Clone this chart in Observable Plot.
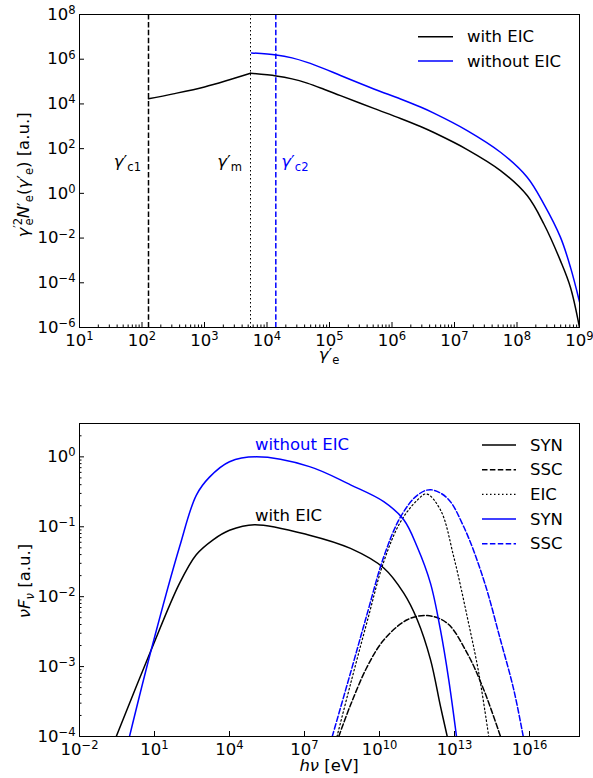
<!DOCTYPE html>
<html><head><meta charset="utf-8">
<script src="https://cdn.jsdelivr.net/npm/d3@7"></script>
<script src="https://cdn.jsdelivr.net/npm/@observablehq/plot@0.6"></script>
<style>
body{margin:0;background:#fff;}
#chart{width:593px;height:778px;font-family:"DejaVu Sans",sans-serif;}
svg{display:block}
</style></head><body><div id="chart"></div>
<script>
// ---------- Top panel data: [log10 γ'e, log10 γ'^2 N'e] ----------
const withEIC_rise = [[2.104,4.23],[2.5,4.45],[3.0,4.76],[3.4,5.08],[3.736,5.37]];
const withEIC_decay = [[3.736,5.37],[4.147,5.25],[4.4,5.12],[4.643,4.93],[4.91,4.66],[5.176,4.37],[5.709,3.80],[6.136,3.35],[6.456,2.99],[6.669,2.72],[7.203,1.96],[7.736,1.02],[8.163,-0.10],[8.43,-1.37],[8.696,-3.02],[8.856,-4.21],[9.0,-6.0]];
const withoutEIC = [[3.752,6.28],[4.147,6.19],[4.4,6.06],[4.643,5.86],[4.91,5.58],[5.176,5.27],[5.709,4.67],[6.136,4.22],[6.456,3.86],[6.669,3.59],[7.203,2.81],[7.736,1.84],[8.163,0.72],[8.43,-0.48],[8.696,-1.97],[8.856,-3.31],[9.0,-4.85]];
const gammaC1 = 10 ** 2.104;
const gammaM = 10 ** 3.736;
const gammaC2 = 10 ** 4.141;
const topXExp = [1,2,3,4,5,6,7,8,9];
const topYExp = [-6,-4,-2,0,2,4,6,8];

// ---------- Bottom panel data: [log10 hν (eV), log10 νFν] ----------
const synWith = [[-0.53,-4],[0.87,-2.76],[2.0,-1.81],[2.67,-1.40],[3.33,-1.19],[4.0,-1.05],[5.0,-0.97],[7.2,-1.12],[8.84,-1.31],[10.17,-1.59],[10.97,-1.95],[11.51,-2.33],[12.04,-2.90],[12.44,-3.57],[12.71,-4]];
const sscWith = [[8.37,-4],[8.84,-3.55],[9.51,-3.0],[10.17,-2.62],[11.11,-2.33],[11.91,-2.27],[12.71,-2.38],[13.51,-2.81],[14.17,-3.33],[14.84,-4]];
const eicWith = [[8.3,-4],[8.84,-3.25],[9.51,-2.35],[10.17,-1.50],[10.84,-0.93],[11.51,-0.62],[11.88,-0.53],[12.44,-0.76],[12.97,-1.43],[13.51,-2.29],[13.97,-3.09],[14.37,-4]];
const synWithout = [[0.0,-4],[0.87,-2.76],[2.0,-1.29],[2.67,-0.55],[3.2,-0.29],[4.0,-0.07],[5.07,0.0],[7.2,-0.14],[8.84,-0.40],[10.17,-0.64],[10.97,-0.90],[11.51,-1.29],[12.04,-1.81],[12.44,-2.48],[12.77,-3.19],[13.08,-4]];
const sscWithout = [[8.11,-4],[8.84,-3.09],[9.51,-2.24],[10.17,-1.43],[10.84,-0.86],[11.51,-0.55],[12.04,-0.47],[12.71,-0.59],[13.37,-1.0],[14.17,-1.76],[14.84,-2.62],[15.37,-3.33],[15.75,-4]];
const botXExp = [-2,1,4,7,10,13,16];
const botYExp = [-4,-3,-2,-1,0];

const BLUE = "#0000ff";
const FS = 16.5;
const DASH = "5.5,2.4";
const DOT = "1.5,2.5";
const pw = d => 10 ** d;
const fmt = d => "10^" + Math.round(Math.log10(d));
const minors = (exps, max) => exps.flatMap(e => [2,3,4,5,6,7,8,9].map(m => m * 10 ** e)).filter(v => v < max);
const style = {fontFamily: "DejaVu Sans", fontSize: FS + "px", color: "black", background: "white", overflow: "visible"};
const L = (data, stroke, dash) => Plot.line(data, {x: d => pw(d[0]), y: d => pw(d[1]), stroke, strokeWidth: 1.5, strokeDasharray: dash, curve: "catmull-rom", clip: true});

// ---------- Top plot ----------
const tH = 380, tMT = 14, tMB = 53, tML = 79, tMR = 14;
const tFH = tH - tMT - tMB, tFW = 593 - tML - tMR;
const topPlot = Plot.plot({
  width: 593, height: tH, marginTop: tMT, marginBottom: tMB, marginLeft: tML, marginRight: tMR,
  style,
  x: {type: "log", domain: [1e1, 1e9]},
  y: {type: "log", domain: [1e-6, 1e8]},
  marks: [
    Plot.ruleX([gammaC1], {stroke: "black", strokeWidth: 1.5, strokeDasharray: DASH}),
    Plot.ruleX([gammaM], {stroke: "black", strokeWidth: 1, strokeDasharray: DOT}),
    Plot.ruleX([gammaC2], {stroke: BLUE, strokeWidth: 1.5, strokeDasharray: DASH}),
    L(withEIC_rise, "black"),
    L(withEIC_decay, "black"),
    L(withoutEIC, BLUE),
    Plot.tickX(topXExp.map(pw), {x: d => d, insetTop: tFH - 5, stroke: "black"}),
    Plot.tickX(minors(topXExp.slice(0, -1), 1e9), {x: d => d, insetTop: tFH - 2.5, stroke: "black"}),
    Plot.tickY(topYExp.map(pw), {y: d => d, insetRight: tFW - 5, stroke: "black"}),
    Plot.axisX({ticks: topXExp.map(pw), tickSize: 0, tickPadding: 7, tickFormat: fmt, label: null}),
    Plot.axisY({ticks: topYExp.map(pw), tickSize: 0, tickPadding: 4, tickFormat: fmt, label: null}),
    Plot.frame({stroke: "black"})
  ]
});

// ---------- Bottom plot ----------
const bH = 398, bMT = 43, bMB = 42, bML = 79, bMR = 14;
const bFH = bH - bMT - bMB, bFW = 593 - bML - bMR;
const botPlot = Plot.plot({
  width: 593, height: bH, marginTop: bMT, marginBottom: bMB, marginLeft: bML, marginRight: bMR,
  style,
  x: {type: "log", domain: [1e-2, 1e18]},
  y: {type: "log", domain: [1e-4, 3]},
  marks: [
    L(synWith, "black"),
    L(sscWith, "black", DASH),
    Plot.line(eicWith, {x: d => pw(d[0]), y: d => pw(d[1]), stroke: "black", strokeWidth: 1.2, strokeDasharray: DOT, curve: "catmull-rom", clip: true}),
    L(synWithout, BLUE),
    L(sscWithout, BLUE, DASH),
    Plot.tickX(botXExp.map(pw), {x: d => d, insetTop: bFH - 5, stroke: "black"}),
    Plot.tickY(botYExp.map(pw), {y: d => d, insetRight: bFW - 5, stroke: "black"}),
    Plot.tickY(minors(botYExp, 3), {y: d => d, insetRight: bFW - 2.5, stroke: "black"}),
    Plot.axisX({ticks: botXExp.map(pw), tickSize: 0, tickPadding: 7, tickFormat: fmt, label: null}),
    Plot.axisY({ticks: botYExp.map(pw), tickSize: 0, tickPadding: 4, tickFormat: fmt, label: null}),
    Plot.frame({stroke: "black"})
  ]
});

const chart = document.getElementById("chart");
chart.appendChild(topPlot);
chart.appendChild(botPlot);

// superscript tick labels
function supify(svg) {
  d3.select(svg).selectAll("text").each(function () {
    const m = /^10\^(-?\d+)$/.exec(this.textContent);
    if (!m) return;
    const el = d3.select(this); el.text(null);
    el.append("tspan").text("10");
    el.append("tspan").attr("dy", "-0.5em").attr("font-size", "0.7em").text(m[1].replace("-", "\u2212"));
  });
}
supify(topPlot); supify(botPlot);

// rich text helper: parts = [{t, i, s:"sub"|"sup", dx}]
function rich(g, x, y, parts, opts = {}) {
  const t = g.append("text").attr("x", x).attr("y", y)
    .attr("font-family", "DejaVu Sans").attr("font-size", FS)
    .attr("fill", opts.fill || "black").attr("text-anchor", opts.anchor || "start");
  if (opts.transform) t.attr("transform", opts.transform).attr("x", 0).attr("y", 0);
  let cur = 0;
  for (const p of parts) {
    const target = p.s === "sub" ? 0.22 * FS : p.s === "sup" ? -0.42 * FS : 0;
    const ts = t.append("tspan").text(p.t).attr("dy", target - cur);
    cur = target;
    if (p.s) ts.attr("font-size", FS * 0.7);
    if (p.i) ts.attr("font-style", "italic");
    if (p.dx) ts.attr("dx", p.dx);
  }
  return t;
}
const plain = (g, x, y, txt, fill, extra = {}) => {
  const t = g.append("text").attr("x", x).attr("y", y).attr("text-anchor", "start")
    .attr("font-family", "DejaVu Sans").attr("font-size", FS).attr("fill", fill).text(txt);
  for (const k in extra) t.attr(k, extra[k]);
  return t;
};
const scaleFn = s => s.apply ? (v => s.apply(v)) : d3.scaleLog(s.domain, s.range);

// ---- Top annotations ----
const gt = d3.select(topPlot);
const tx = scaleFn(topPlot.scale("x"));
rich(gt, tx(gammaC1) - 7, 167, [{t: "γ", i: 1}, {t: "′"}, {t: "c1", s: "sub"}], {anchor: "end"});
rich(gt, tx(gammaM) - 8, 167, [{t: "γ", i: 1}, {t: "′"}, {t: "m", s: "sub"}], {anchor: "end"});
rich(gt, tx(gammaC2) + 6, 167, [{t: "γ", i: 1}, {t: "′"}, {t: "c2", s: "sub"}], {fill: BLUE});
rich(gt, 329, 360, [{t: "γ", i: 1}, {t: "′"}, {t: "e", s: "sub"}], {anchor: "middle"});
rich(gt, 0, 0, [{t: "γ", i: 1}, {t: "′2", s: "sup"}, {t: "e", s: "sub", dx: -7.5}, {t: "N", i: 1}, {t: "′"}, {t: "e", s: "sub"}, {t: "("}, {t: "γ", i: 1}, {t: "′"}, {t: "e", s: "sub"}, {t: ") [a.u.]"}], {anchor: "middle", transform: "translate(29,175) rotate(-90)"});
// top legend
[["with EIC", "black", 36.7], ["without EIC", BLUE, 61]].forEach(([lab, c, y]) => {
  gt.append("line").attr("x1", 418).attr("x2", 453).attr("y1", y).attr("y2", y).attr("stroke", c).attr("stroke-width", 1.5);
  plain(gt, 467, y, lab, "black", {"dominant-baseline": "central"});
});

// ---- Bottom annotations ----
const gb = d3.select(botPlot);
const by0 = 380; // svg offset in page
plain(gb, 255, 450 - by0, "without EIC", BLUE);
plain(gb, 255, 521 - by0, "with EIC", "black");
rich(gb, 329, 771 - by0, [{t: "h", i: 1}, {t: "ν", i: 1}, {t: " [eV]"}], {anchor: "middle"});
rich(gb, 0, 0, [{t: "ν", i: 1}, {t: "F", i: 1}, {t: "ν", i: 1, s: "sub"}, {t: " [a.u.]"}], {anchor: "middle", transform: `translate(30,${581 - by0}) rotate(-90)`});
// bottom legend
[["SYN", "black", null, 445], ["SSC", "black", DASH, 469.7], ["EIC", "black", DOT, 494.4], ["SYN", BLUE, null, 519.1], ["SSC", BLUE, DASH, 543.8]].forEach(([lab, c, dash, y]) => {
  const ln = gb.append("line").attr("x1", 482).attr("x2", 516).attr("y1", y - by0).attr("y2", y - by0).attr("stroke", c).attr("stroke-width", dash === DOT ? 1.2 : 1.5);
  if (dash) ln.attr("stroke-dasharray", dash);
  plain(gb, 530, y - by0, lab, "black", {"dominant-baseline": "central"});
});
</script>
</body></html>
